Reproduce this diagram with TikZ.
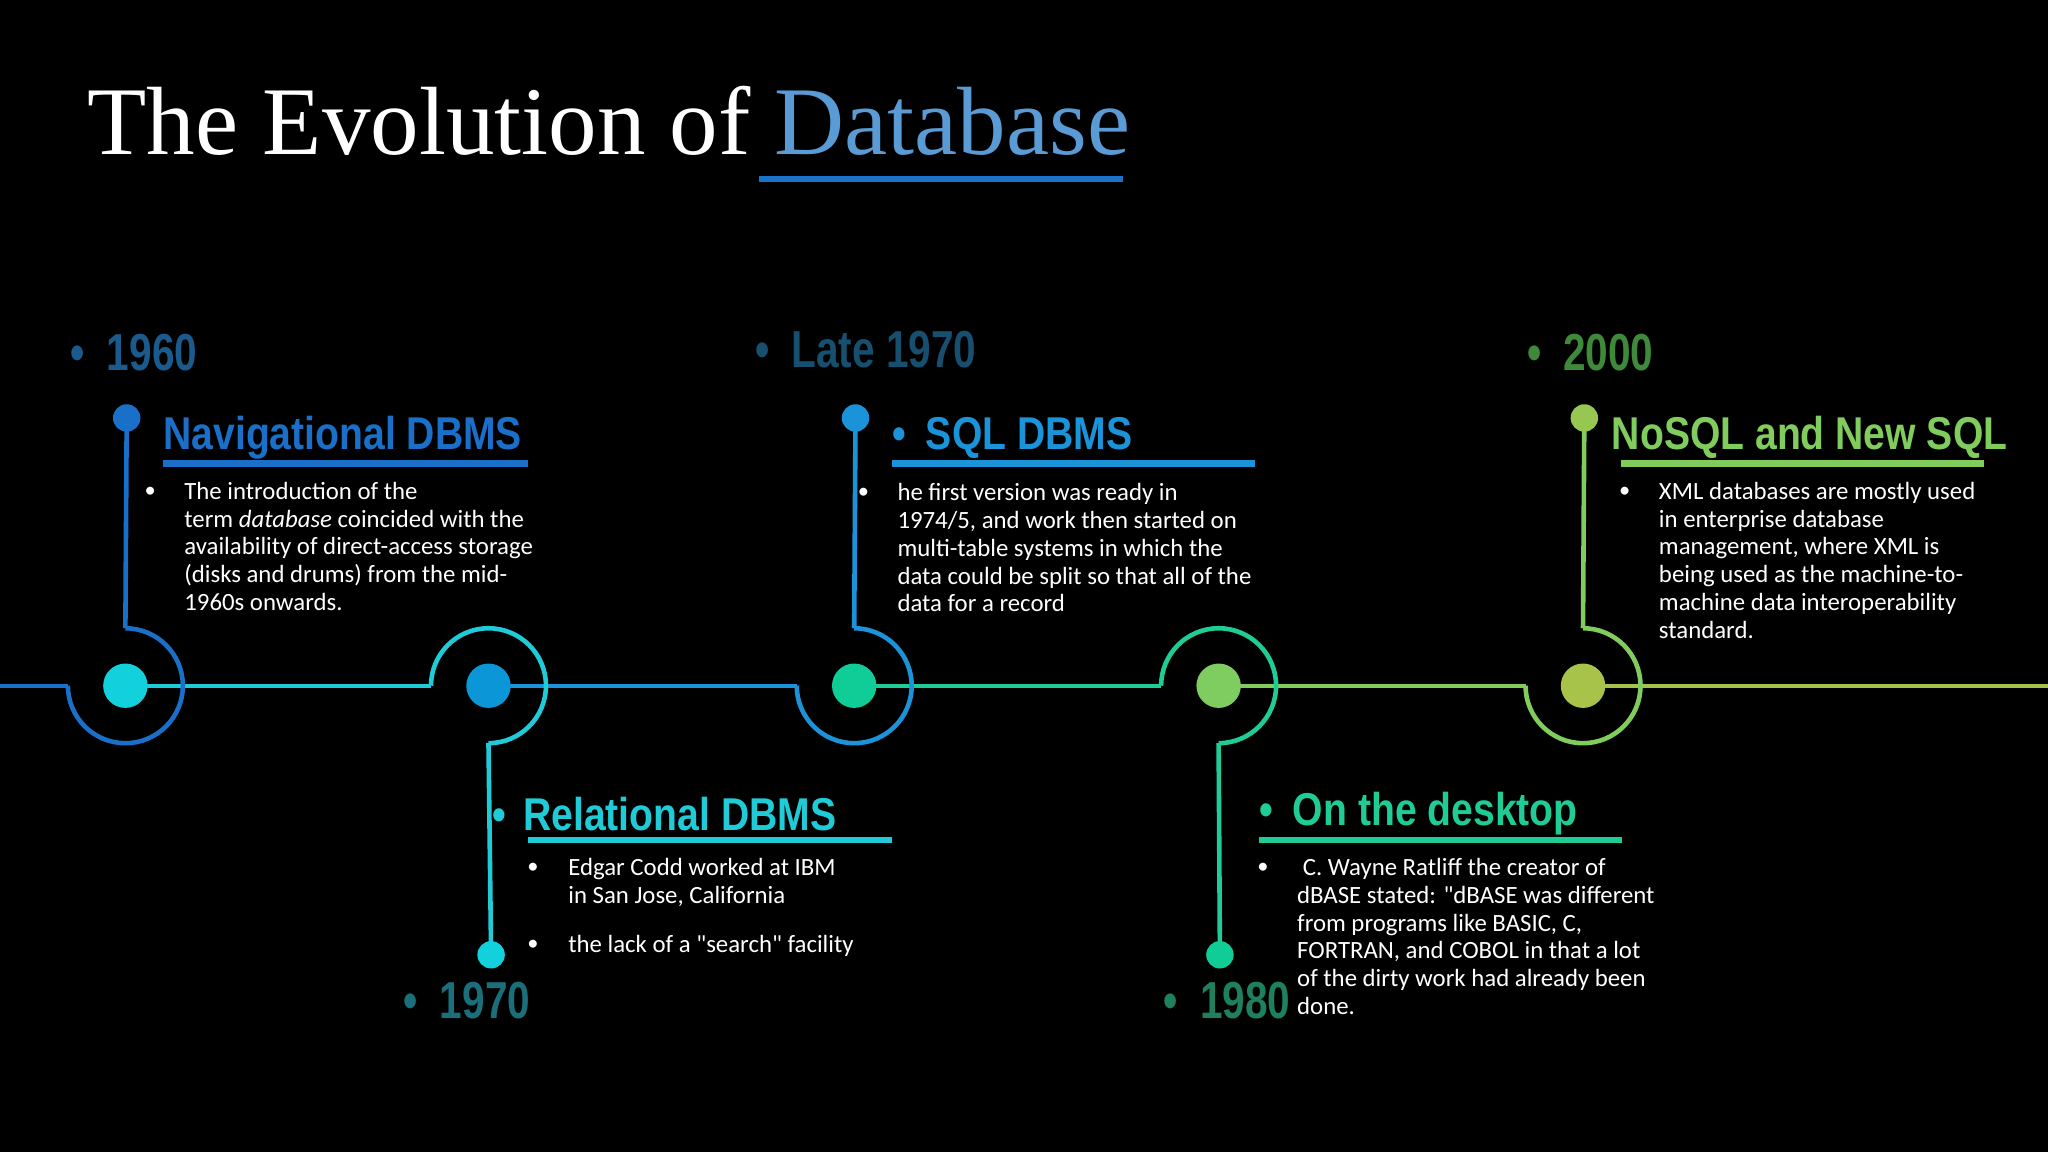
\documentclass[tikz,border=0pt]{standalone}
\usepackage{fontspec}
\setmainfont{Carlito}
\newfontfamily\plainq{Carlito}
\newcommand{\sq}{{\plainq"}}
\newfontfamily\headfont[FakeStretch=0.85]{Liberation Sans}
\newfontfamily\yearfont[FakeStretch=0.78]{Liberation Sans}
\newfontfamily\titlefont{Liberation Serif}
\definecolor{cA}{HTML}{1A6FC9}
\definecolor{cB}{HTML}{1ECBD6}
\definecolor{cC}{HTML}{1A93D8}
\definecolor{cD}{HTML}{1FCC95}
\definecolor{cE}{HTML}{80CC5C}
\definecolor{cF}{HTML}{A6C24A}
\definecolor{dA}{HTML}{12D0DC}
\definecolor{dB}{HTML}{0B96D8}
\definecolor{dC}{HTML}{10CC96}
\definecolor{dD}{HTML}{7FCC60}
\definecolor{dE}{HTML}{A8C34A}
\definecolor{yA}{HTML}{1A5A8C}
\definecolor{yB}{HTML}{17506F}
\definecolor{yC}{HTML}{3F8A3A}
\definecolor{yD}{HTML}{1A6F7A}
\definecolor{yE}{HTML}{1F8060}
\definecolor{ttl}{HTML}{5B9BD5}
\definecolor{ttlu}{HTML}{1A73C8}
\begin{document}
\begin{tikzpicture}[x=1.306pt,y=-1.306pt,
  tl/.style={line width=4pt},
  ring/.style={line width=4.6pt},
  head/.style={font=\headfont\bfseries\fontsize{46}{50}\selectfont,anchor=west,inner sep=0},
  yr/.style={font=\yearfont\bfseries\fontsize{52}{55}\selectfont,anchor=west,inner sep=0},
  body/.style={font=\fontsize{24.8}{27.8}\selectfont,text=white,align=left,anchor=north west,inner sep=0},
  bul/.style={font=\fontsize{22.5}{27.4}\selectfont,text=white,inner sep=0},
  uline/.style={line width=6.5pt}]
\fill[black] (0,0) rectangle (1568,882);
\useasboundingbox (0,0) rectangle (1568,882);
% title
\node[anchor=base west,inner sep=0,font=\titlefont\fontsize{97}{100}\selectfont,text=white] (title) at (67,118) {The Evolution of \textcolor{ttl}{Database}};
\coordinate (tu1) at (581,137); \coordinate (tu2) at (860,137);
\draw[ttlu,uline] (tu1) -- (tu2);
% timeline coordinates
\foreach \n/\x in {1/96,2/374,3/654,4/933,5/1212}{
  \coordinate (c\n) at (\x,525);
  \coordinate (l\n) at (\x-44,525);
  \coordinate (t\n) at (\x,481);
  \coordinate (u\n) at (\x,569);
}
\coordinate (start) at (0,525); \coordinate (end) at (1568,525);
\draw[tl,cA] (start) -- (l1);
\draw[tl,cB] (c1) -- (l2);
\draw[tl,cC] (c2) -- (l3);
\draw[tl,cD] (c3) -- (l4);
\draw[tl,cE] (c4) -- (l5);
\draw[tl,cF] (c5) -- (end);
% rings
\draw[ring,cA] (t1) arc[start angle=-90,end angle=180,radius=44];
\draw[ring,cB] (l2) arc[start angle=180,end angle=450,radius=44];
\draw[ring,cC] (t3) arc[start angle=-90,end angle=180,radius=44];
\draw[ring,cD] (l4) arc[start angle=180,end angle=450,radius=44];
\draw[ring,cE] (t5) arc[start angle=-90,end angle=180,radius=44];
% dots
\fill[dA] (c1) circle[radius=17];
\fill[dB] (c2) circle[radius=17];
\fill[dC] (c3) circle[radius=17];
\fill[dD] (c4) circle[radius=17];
\fill[dE] (c5) circle[radius=17];
% stems and pins
\coordinate (p1) at (97,320); \coordinate (p3) at (655,320); \coordinate (p5) at (1213,320);
\coordinate (p2) at (376,731); \coordinate (p4) at (934,731);
\draw[ring,cA] (t1) -- (p1);
\draw[ring,cC] (t3) -- (p3);
\draw[ring,cE] (t5) -- (p5);
\draw[ring,cB] (u2) -- (p2);
\draw[ring,cD] (u4) -- (p4);
\fill[cA] (p1) circle[radius=10.5];
\fill[cC] (p3) circle[radius=10.5];
\fill[dE!60!cE] (p5) circle[radius=10.5];
\fill[dA] (p2) circle[radius=10.5];
\fill[dC] (p4) circle[radius=10.5];
% years
\node[yr,text=yA] (y1) at (54,270) {\textbullet\hspace{22pt}1960};
\node[yr,text=yB] (y3) at (578,268) {\textbullet\hspace{22pt}Late 1970};
\node[yr,text=yC] (y5) at (1169,270) {\textbullet\hspace{22pt}2000};
\node[yr,text=yD] (y2) at (309,766) {\textbullet\hspace{22pt}1970};
\node[yr,text=yE] (y4) at (891,766) {\textbullet\hspace{22pt}1980};
% headings
\node[head,text=cA] (h1) at (125,335) {Navigational DBMS};
\draw[uline,cA] (125,355) -- (404,355);
\node[head,text=cC] (h3) at (683,335) {\textbullet\hspace{20pt}SQL DBMS};
\draw[uline,cC] (683,355) -- (961,355);
\node[head,text=cE] (h5) at (1234,335) {NoSQL and New SQL};
\draw[uline,cE] (1241,355) -- (1519,355);
\node[head,text=cB] (h2) at (377,623) {\textbullet\hspace{17pt}Relational DBMS};
\draw[uline,cB] (404,643) -- (683,643);
\node[head,text=cD] (h4) at (964,623) {\textbullet\hspace{20pt}On the desktop};
\draw[uline,cD] (964,643) -- (1242,643);
% bodies
\node[bul] (b1) at (115,377) {\textbullet};
\node[body] (t1) at (141,369) {The introduction of the\\term \textit{database} coincided with the\\availability of direct-access storage\\(disks and drums) from the mid-\\1960s onwards.};
\node[bul] (b3) at (661,378) {\textbullet};
\node[body] (t3) at (687,370) {he first version was ready in\\1974/5, and work then started on\\multi-table systems in which the\\data could be split so that all of the\\data for a record};
\node[bul] (b5) at (1244,377) {\textbullet};
\node[body] (t5) at (1270,369) {XML databases are mostly used\\in enterprise database\\management, where XML is\\being used as the machine-to-\\machine data interoperability\\standard.};
\node[bul] (b2a) at (408,665) {\textbullet};
\node[body] (t2a) at (435,657) {Edgar Codd worked at IBM\\in San Jose, California};
\node[bul] (b2b) at (408,724) {\textbullet};
\node[body] (t2b) at (435,716) {the lack of a \sq search\sq{} facility};
\node[bul] (b4) at (967,665) {\textbullet};
\node[body] (t4) at (993,657) {\ C. Wayne Ratliff the creator of\\dBASE stated: \sq dBASE was different\\from programs like BASIC, C,\\FORTRAN, and COBOL in that a lot\\of the dirty work had already been\\done.};
\end{tikzpicture}
\end{document}
